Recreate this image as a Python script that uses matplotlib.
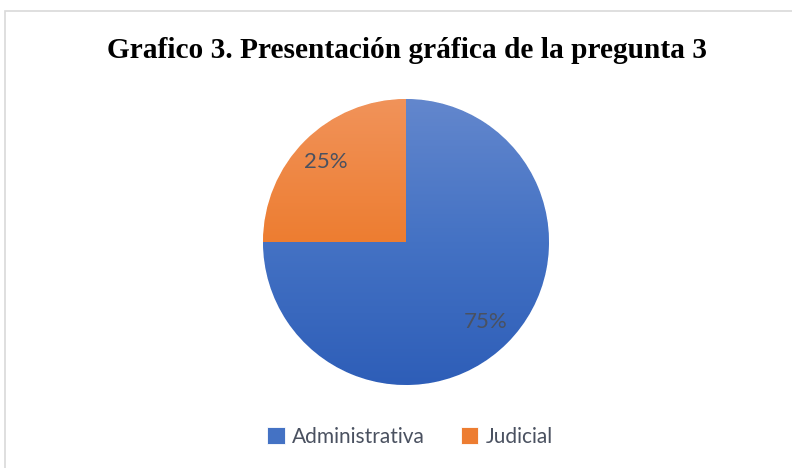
# Pie chart: Grafico 3
import matplotlib.pyplot as plt
import matplotlib.colors as mc
import numpy as np
from matplotlib.patches import Rectangle

labels = ["Administrativa", "Judicial"]
values = [75, 25]
top_colors = ["#6387CD", "#F1935A"]
mid_colors = ["#4472C4", "#ED7D31"]
bot_colors = ["#2E5EB8", "#E26816"]

W, H = 792, 468
fig = plt.figure(figsize=(W / 100, H / 100), dpi=100)

# light frame round the chart area
fig.patches.append(Rectangle((5 / W, -0.05), 1.2, 1 - 11 / H + 0.05,
                             transform=fig.transFigure, fill=False,
                             edgecolor="#D9D9D9", linewidth=1.2))

fig.text(407 / W, 1 - 50 / H, "Grafico 3. Presentación gráfica de la pregunta 3",
         ha="center", va="center", family="Liberation Serif",
         weight="bold", fontsize=21.2)

ax = fig.add_axes([263 / W, 83 / H, 286 / W, 286 / H])
wedges, texts, autotexts = ax.pie(
    values, labels=None, colors=mid_colors, startangle=90, counterclock=False,
    autopct="%1.0f%%", pctdistance=0.79,
    wedgeprops=dict(edgecolor="white", linewidth=0.6),
    textprops=dict(color="#4a5160", fontsize=16, family="Lato"))
ax.set_xlim(-1, 1)
ax.set_ylim(-1, 1)
ax.set_aspect("equal")

# vertical gradient fill, clipped to each wedge
for w, c0, c1, c2 in zip(wedges, top_colors, mid_colors, bot_colors):
    a, b, c = (np.array(mc.to_rgb(x)) for x in (c0, c1, c2))
    t = np.linspace(0, 1, 200)[:, None]
    grad = np.where(t < 0.5, a + (b - a) * (t / 0.5), b + (c - b) * ((t - 0.5) / 0.5))
    img = ax.imshow(grad[:, None, :], extent=(-1, 1, -1, 1), aspect="auto",
                    origin="upper", zorder=w.get_zorder() + 0.1)
    img.set_clip_path(w)
for t in autotexts:
    t.set_zorder(5)

fig.legend(wedges, labels, loc="center", bbox_to_anchor=(410 / W, 1 - 437 / H),
           ncol=2, frameon=False, handlelength=0.85,
           handleheight=0.85, handletextpad=0.35, columnspacing=1.7,
           labelcolor="#4a5160", prop=dict(family="Lato", size=15))

fig.savefig("out.png", dpi=100)
